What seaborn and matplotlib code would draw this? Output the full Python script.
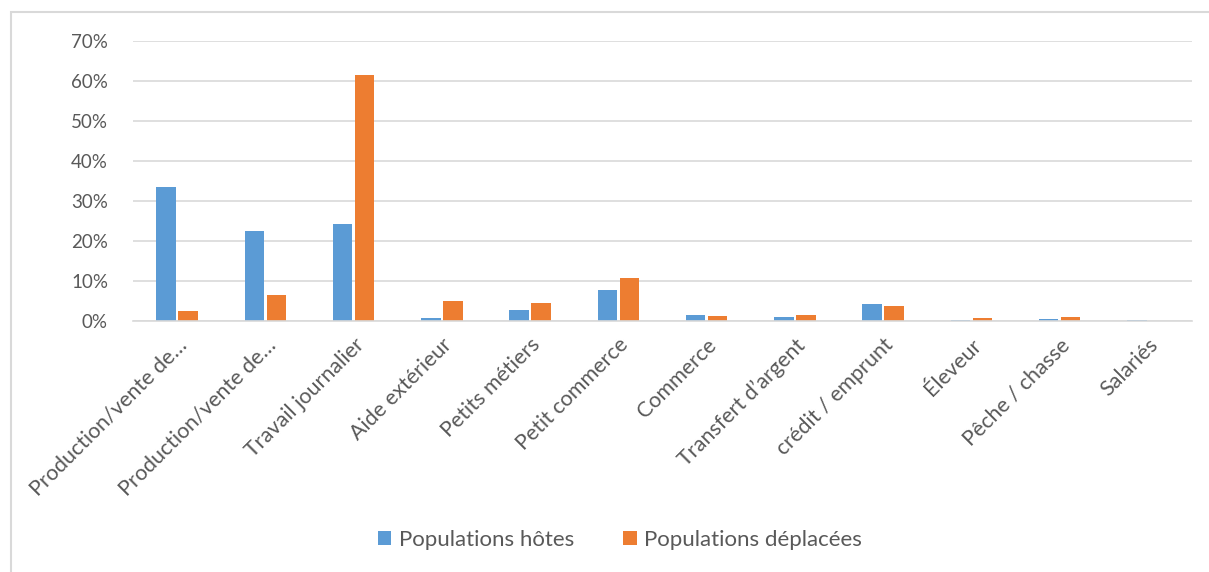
import pandas as pd
import matplotlib
matplotlib.use("Agg")
import matplotlib.pyplot as plt
import matplotlib.transforms as mtransforms
from matplotlib.patches import Rectangle
from matplotlib.ticker import PercentFormatter
import seaborn as sns

# === DONNÉES ===
categories = ["Production/vente de…", "Production/vente de…", "Travail journalier",
              "Aide extérieur", "Petits métiers", "Petit commerce", "Commerce",
              "Transfert d’argent", "crédit / emprunt", "Éleveur", "Pêche / chasse",
              "Salariés"]
hotes = [33.6, 22.5, 24.2, 0.8, 2.8, 7.7, 1.5, 1.0, 4.2, 0.1, 0.5, 0.1]
deplacees = [2.6, 6.5, 61.6, 4.9, 4.4, 10.7, 1.3, 1.5, 3.8, 0.7, 1.0, 0.0]
series = ["Populations hôtes", "Populations déplacées"]
couleurs = ["#5B9BD5", "#ED7D31"]

# identifiants uniques pour les deux "Production/vente de…"
ids = [f"{i}" for i in range(len(categories))]
df = pd.DataFrame({"cat": ids * 2,
                   "serie": [series[0]] * len(ids) + [series[1]] * len(ids),
                   "val": hotes + deplacees})

# === STYLE ===
sns.set_theme(style="white")
plt.rcParams["font.family"] = ["Lato", "DejaVu Sans"]
gris = "#595959"

fig = plt.figure(figsize=(12.09, 5.72), dpi=100)
ax = fig.add_axes([0.110, 0.439, 0.876, 0.489])

sns.barplot(data=df, x="cat", y="val", hue="serie", palette=couleurs,
            saturation=1, width=0.5, gap=0.12, linewidth=0, ax=ax, legend=True)

ax.set_ylim(0, 70)
ax.set_yticks(range(0, 71, 10))
ax.yaxis.set_major_formatter(PercentFormatter(decimals=0))
ax.grid(axis="y", color="#D9D9D9", linewidth=1.2)
ax.set_axisbelow(True)
for s in ["top", "right", "left"]:
    ax.spines[s].set_visible(False)
ax.spines["bottom"].set_color("#D9D9D9")
ax.spines["bottom"].set_linewidth(1.2)
ax.set_xlim(-0.5, len(categories) - 0.5)

ax.set_xticks(range(len(categories)))
ax.set_xticklabels(categories, rotation=45, ha="right", rotation_mode="anchor",
                   fontsize=15.5, color=gris)
decalage = mtransforms.ScaledTranslation(5 / 100, 0, fig.dpi_scale_trans)
for lab in ax.get_xticklabels():
    lab.set_transform(lab.get_transform() + decalage)
ax.tick_params(axis="y", labelsize=13.5, colors=gris, length=0, pad=18)
ax.tick_params(axis="x", length=0, pad=10)
ax.set_xlabel("")
ax.set_ylabel("")

# === LÉGENDE ===
handles, labels = ax.get_legend_handles_labels()
ax.legend_.remove()
fig.legend(handles, labels, loc="center", bbox_to_anchor=(0.513, 0.056), ncol=2,
           frameon=False, fontsize=16, labelcolor=gris, handlelength=0.6,
           handleheight=0.6, handletextpad=0.35, columnspacing=2.2)

# cadre extérieur
fig.patches.append(Rectangle((11 / 1209, -0.05), 1.1, 1 - 12 / 572 + 0.05,
                             transform=fig.transFigure, fill=False,
                             edgecolor="#D9D9D9", linewidth=1.5))

fig.savefig("out.png", dpi=100)
